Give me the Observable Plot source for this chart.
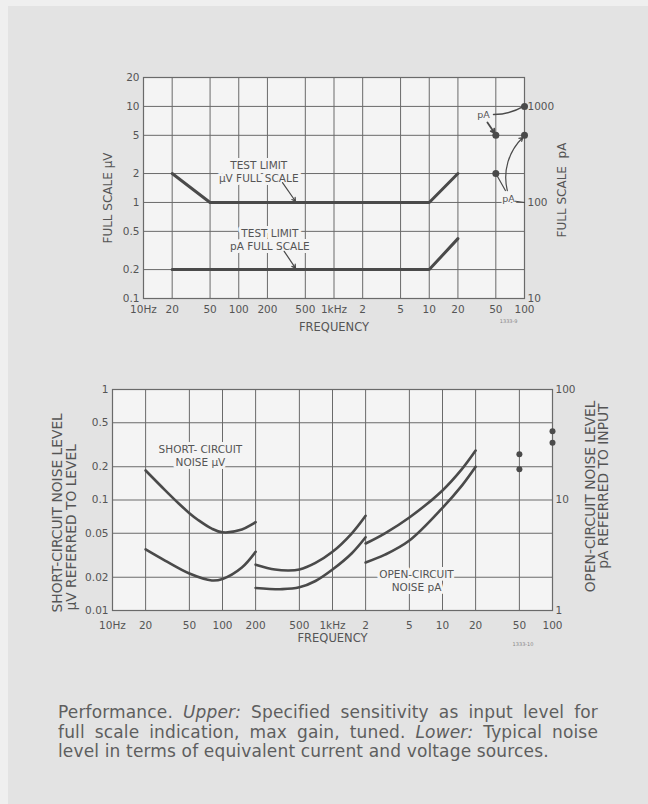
<!DOCTYPE html>
<html><head><meta charset="utf-8">
<script src="https://cdn.jsdelivr.net/npm/d3@7"></script>
<script src="https://cdn.jsdelivr.net/npm/@observablehq/plot@0.6"></script>
<style>
body{margin:0;background:#efefef;}
#page{position:relative;width:648px;height:804px;background:#e3e3e3;overflow:hidden;}
#edge{position:absolute;left:0;top:0;width:648px;height:804px;box-sizing:border-box;border-left:8px solid #efefef;border-top:6px solid #efefef;}
#top,#bottom{position:absolute;left:0;}
#top{top:0}
#bottom{top:350px}
#caption{position:absolute;left:58px;top:703px;width:540px;font-family:"DejaVu Sans",sans-serif;font-size:17px;letter-spacing:0.15px;line-height:19.5px;color:#5e5e5e;}
.j{text-align:justify;text-align-last:justify;}
g[aria-label="axislabel"] text{letter-spacing:1px;}
g[aria-label="axislabel-wide"] text{letter-spacing:1.6px;}
g[aria-label="axislabel-big"] text{letter-spacing:2.4px;}
</style></head><body>
<div id="page"><div id="edge"></div><div id="top"></div><div id="bottom"></div>
<div id="caption"><div class="j">Performance. <i>Upper:</i> Specified sensitivity as input level for</div><div class="j">full scale indication, max gain, tuned. <i>Lower:</i> Typical noise</div><div>level in terms of equivalent current and voltage sources.</div></div></div>
<script>
// ---- shared tick data ----
const freqTicks = [10, 20, 50, 100, 200, 500, 1000, 2000, 5000, 10000, 20000, 50000, 100000];
const freqTickLabels = ["10Hz", "20", "50", "100", "200", "500", "1kHz", "2", "5", "10", "20", "50", "100"];

// ---- upper chart ----
const upperUvTicks = [0.1, 0.2, 0.5, 1, 2, 5, 10, 20];
const upperUvLabels = ["0.1", "0.2", "0.5", "1", "2", "5", "10", "20"];
const upperPaTicks = [10, 100, 1000];
const testLimitUvFreq = [20, 50, 10000, 20000];
const testLimitUvValue = [2, 1, 1, 2];          // µV full scale
const testLimitPaFreq = [20, 10000, 20000];
const testLimitPaValue = [20, 20, 42];         // pA full scale
const upperDotFreq = [50000, 50000, 100000, 100000];
const upperDotPa = [500, 200, 1000, 500];      // pA full scale

// ---- lower chart ----
const lowerUvTicks = [0.01, 0.02, 0.05, 0.1, 0.2, 0.5, 1];
const lowerUvLabels = ["0.01", "0.02", "0.05", "0.1", "0.2", "0.5", "1"];
const lowerPaTicks = [1, 10, 100];
// short-circuit noise, µV
const sc1Freq = [20, 30, 40, 50, 60, 80, 100, 150, 200];
const sc1Value = [0.185, 0.123, 0.093, 0.076, 0.066, 0.055, 0.051, 0.054, 0.063];
const sc2Freq = [200, 300, 400, 500, 700, 1000, 1500, 2000];
const sc2Value = [0.026, 0.0235, 0.023, 0.0235, 0.027, 0.034, 0.05, 0.072];
const sc3Freq = [2000, 3000, 5000, 10000, 15000, 20000];
const sc3Value = [0.0404, 0.05, 0.0695, 0.122, 0.19, 0.28];
// open-circuit noise, pA
const oc1Freq = [20, 30, 50, 80, 100, 150, 200];
const oc1Value = [3.57, 2.83, 2.16, 1.87, 1.93, 2.45, 3.4];
const oc2Freq = [200, 350, 500, 700, 1000, 1500, 2000];
const oc2Value = [1.6, 1.56, 1.62, 1.85, 2.35, 3.3, 4.6];
const oc3Freq = [2000, 3000, 5000, 10000, 15000, 20000];
const oc3Value = [2.72, 3.2, 4.3, 8.5, 13.5, 20];
const lowerDotFreq = [50000, 50000, 100000, 100000];
const lowerDotPa = [26, 19, 42, 33];

const PA_PER_UV = 100; // right axis relation: pA = 100 × µV

const bg = "#f4f4f4", ink = "#4a4a4a", gridC = "#6a6a6a", txt = "#555555";
const freqLabel = new Map(freqTicks.map((d, i) => [d, freqTickLabels[i]]));
const zip = (f, v, k = 1) => f.map((d, i) => ({f: d, v: v[i] / k}));
const style = {fontFamily: "DejaVu Sans", fontSize: "11px", color: txt, background: "transparent", overflow: "visible"};
const tickFont = {fill: txt, fontSize: 10.5};

function axes(uvTicks, uvLabels, paTicks, pad) {
  const uvMap = new Map(uvTicks.map((d, i) => [d, uvLabels[i]]));
  return [
    Plot.text(freqTicks, {x: d => d, frameAnchor: "bottom", lineAnchor: "top", textAnchor: "middle", dy: pad, text: d => freqLabel.get(d), ...tickFont}),
    Plot.text(uvTicks, {y: d => d, frameAnchor: "left", textAnchor: "end", dx: -4, text: d => uvMap.get(d), ...tickFont}),
    Plot.text(paTicks, {y: d => d / PA_PER_UV, frameAnchor: "right", textAnchor: "start", dx: 3, text: d => String(d), ...tickFont})
  ];
}
function gridMarks(uvTicks) {
  return [
    Plot.frame({fill: bg}),
    Plot.ruleX(freqTicks.slice(1, -1), {stroke: gridC, strokeWidth: 1}),
    Plot.ruleY(uvTicks.slice(1, -1), {stroke: gridC, strokeWidth: 1}),
    Plot.frame({stroke: gridC, strokeWidth: 1.2})
  ];
}
const halo = {fill: txt, stroke: bg, strokeWidth: 6, fontSize: 10.5, fontFamily: "DejaVu Sans", lineHeight: 1.25, textAnchor: "middle"};
const axisLab = {fill: txt, fontSize: 11.5, ariaLabel: "axislabel", lineAnchor: "middle", textAnchor: "middle"};
const sideLabUp = {...axisLab, fontSize: 12, ariaLabel: "axislabel-wide"};
const sideLabLow = {...axisLab, fontSize: 13.8, ariaLabel: "axislabel-big"};

// ---- build upper ----
const upper = Plot.plot({
  width: 648, height: 345,
  marginLeft: 143, marginRight: 124, marginTop: 77, marginBottom: 47,
  x: {type: "log", domain: [10, 100000], axis: null},
  y: {type: "log", domain: [0.1, 20], axis: null},
  style,
  marks: [
    ...gridMarks(upperUvTicks),
    ...axes(upperUvTicks, upperUvLabels, upperPaTicks, 7),
    Plot.text(["TEST LIMIT\nµV FULL SCALE"], {x: 162, y: 2.1, text: d => d, ...halo}),
    Plot.text(["TEST LIMIT\npA FULL SCALE"], {x: 212, y: 0.415, text: d => d, ...halo}),
    Plot.line(zip(testLimitUvFreq, testLimitUvValue), {x: "f", y: "v", stroke: ink, strokeWidth: 3}),
    Plot.line(zip(testLimitPaFreq, testLimitPaValue, PA_PER_UV), {x: "f", y: "v", stroke: ink, strokeWidth: 3}),
    Plot.arrow([0], {x1: 288, y1: 1.61, x2: 394, y2: 1.03, stroke: ink, strokeWidth: 1.2, headLength: 5}),
    Plot.arrow([0], {x1: 300, y1: 0.31, x2: 394, y2: 0.207, stroke: ink, strokeWidth: 1.2, headLength: 5}),
    Plot.text(["pA"], {x: 37200, y: 8.3, text: d => d, ...halo, strokeWidth: 3, fontSize: 9.5}),
    Plot.text(["pA"], {x: 67900, y: 1.1, text: d => d, ...halo, strokeWidth: 3, fontSize: 9.5}),
    Plot.arrow([0], {x1: 47300, y1: 8.26, x2: 98000, y2: 10, bend: -15, stroke: ink, strokeWidth: 1.5, headLength: 0}),
    Plot.arrow([0], {x1: 40800, y1: 6.8, x2: 48500, y2: 5.3, stroke: ink, strokeWidth: 1.8, headLength: 4}),
    Plot.arrow([0], {x1: 63000, y1: 1.33, x2: 50000, y2: 2, stroke: ink, strokeWidth: 1.2, headLength: 0}),
    Plot.arrow([0], {x1: 66000, y1: 1.33, x2: 96000, y2: 4.75, bend: 30, stroke: ink, strokeWidth: 1.2, headLength: 5}),
    Plot.arrow([0], {x1: 80000, y1: 1.03, x2: 100000, y2: 1.0, stroke: ink, strokeWidth: 1, headLength: 0}),
    Plot.dot(zip(upperDotFreq, upperDotPa, PA_PER_UV), {x: "f", y: "v", r: 3.5, fill: ink}),
    Plot.text(["FREQUENCY"], {frameAnchor: "bottom", dy: 29, text: d => d, ...axisLab}),
    Plot.text(["FULL SCALE µV"], {frameAnchor: "left", dx: -35, dy: 10, rotate: -90, text: d => d, ...sideLabUp}),
    Plot.text(["FULL SCALE\u00a0 pA"], {frameAnchor: "right", dx: 38, dy: 2, rotate: -90, text: d => d, ...sideLabUp}),
    Plot.text(["1333-9"], {frameAnchor: "bottom-right", dx: -7, dy: 24, text: d => d, fontSize: 5, fill: "#888"})
  ]
});
document.getElementById("top").append(upper);

// ---- build lower ----
const curve = {x: "f", y: "v", stroke: ink, strokeWidth: 2.6, curve: "catmull-rom"};
const lower = Plot.plot({
  width: 648, height: 310,
  marginLeft: 112, marginRight: 96, marginTop: 39, marginBottom: 50,
  x: {type: "log", domain: [10, 100000], axis: null},
  y: {type: "log", domain: [0.01, 1], axis: null},
  style,
  marks: [
    ...gridMarks(lowerUvTicks),
    ...axes(lowerUvTicks, lowerUvLabels, lowerPaTicks, 11),
    Plot.text(["SHORT- CIRCUIT\nNOISE µV"], {x: 63, y: 0.253, text: d => d, ...halo}),
    Plot.text(["OPEN-CIRCUIT\nNOISE pA"], {x: 5800, y: 0.0187, text: d => d, ...halo}),
    Plot.line(zip(sc1Freq, sc1Value), curve),
    Plot.line(zip(sc2Freq, sc2Value), curve),
    Plot.line(zip(sc3Freq, sc3Value), curve),
    Plot.line(zip(oc1Freq, oc1Value, PA_PER_UV), curve),
    Plot.line(zip(oc2Freq, oc2Value, PA_PER_UV), curve),
    Plot.line(zip(oc3Freq, oc3Value, PA_PER_UV), curve),
    Plot.dot(zip(lowerDotFreq, lowerDotPa, PA_PER_UV), {x: "f", y: "v", r: 3, fill: ink}),
    Plot.text(["FREQUENCY"], {frameAnchor: "bottom", dy: 28, text: d => d, ...axisLab}),
    Plot.text(["SHORT-CIRCUIT NOISE LEVEL"], {frameAnchor: "bottom-left", dx: -55, dy: 2, rotate: -90, text: d => d, ...sideLabLow, textAnchor: "start"}),
    Plot.text(["µV REFERRED TO LEVEL"], {frameAnchor: "bottom-left", dx: -41, dy: 0, rotate: -90, text: d => d, ...sideLabLow, textAnchor: "start"}),
    Plot.text(["OPEN-CIRCUIT NOISE LEVEL"], {frameAnchor: "top-right", dx: 38, dy: 11, rotate: -90, text: d => d, ...sideLabLow, textAnchor: "end"}),
    Plot.text(["pA REFERRED TO INPUT"], {frameAnchor: "top-right", dx: 51, dy: 14, rotate: -90, text: d => d, ...sideLabLow, textAnchor: "end"}),
    Plot.text(["1333-10"], {frameAnchor: "bottom-right", dx: -19, dy: 35, text: d => d, fontSize: 5, fill: "#888"})
  ]
});
document.getElementById("bottom").append(lower);
</script>
</body></html>
